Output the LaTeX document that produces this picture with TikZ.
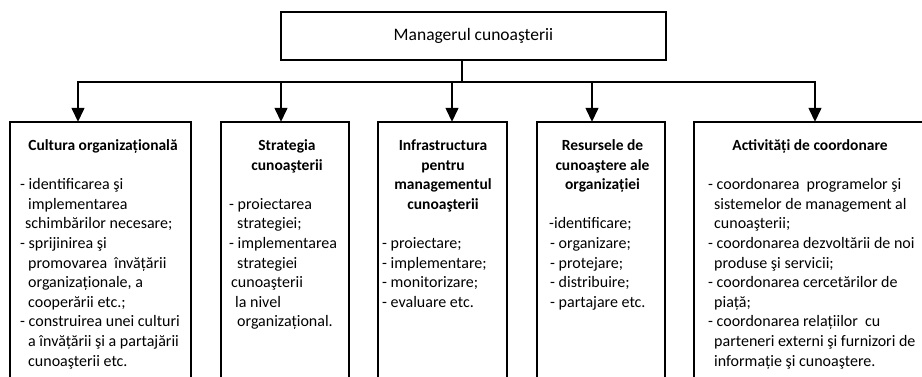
\documentclass[tikz,border=0pt]{standalone}
\usepackage{fontspec}
\setmainfont{Carlito}
\usetikzlibrary{arrows.meta}
\newcommand\boxlines[3]{%
  \foreach \lx/\lt [count=\li from #2] in {#3} {
    \node[body] (#1\li) at (\lx, {150.5+\li*19.6}) {\lt};
  }}
\newcommand\boxhead[3]{%
  \foreach \lt [count=\li from 0] in {#3} {
    \node[hdr] (#1\li) at (#2, {150.5+\li*19.6}) {\lt};
  }}
\begin{document}
\begin{tikzpicture}[x=1pt,y=-1pt,
  frame/.style={line width=1.8pt},
  conn/.style={line width=1.4pt},
  arr/.style={conn,-{Triangle[width=13pt,length=14pt]}},
  body/.style={inner sep=0pt, anchor=base west, font=\fontsize{16}{19.6}\selectfont},
  hdr/.style={inner sep=0pt, anchor=base, font=\bfseries\fontsize{15.5}{19.6}\selectfont},
  slot/.style={inner sep=0pt, rectangle, minimum height=255pt}]
\useasboundingbox[fill=white] (0,0) rectangle (922,377);

% top box
\node[draw, frame, minimum width=385pt, minimum height=48pt, inner sep=0pt,
      font=\fontsize{17.5}{20}\selectfont] (mgr) at (473.5,36) {Managerul cunoaşterii};

% lower boxes (open at the bottom)
\node[slot, minimum width=181pt] (b1) at (100.5,249.5) {};
\node[slot, minimum width=128pt] (b2) at (285,249.5) {};
\node[slot, minimum width=129pt] (b3) at (442.5,249.5) {};
\node[slot, minimum width=128pt] (b4) at (601,249.5) {};
\node[slot, minimum width=231pt] (b5) at (809.5,249.5) {};
\foreach \b in {b1,b2,b3,b4,b5}
  \draw[frame] (\b.south west) -- (\b.north west) -- (\b.north east) -- (\b.south east);

% connectors
\coordinate (drop) at (462,82);
\coordinate (a1) at (78,82);
\coordinate (a2) at (281,82);
\coordinate (a3) at (452,82);
\coordinate (a4) at (592,82);
\coordinate (a5) at (815,82);
\draw[conn] (mgr.south -| drop) -- (drop);
\draw[arr] (drop) -| (a1 |- b1.north);
\draw[arr] (drop) -| (a5 |- b5.north);
\draw[arr] (a2) -- (a2 |- b2.north);
\draw[arr] (a3) -- (a3 |- b3.north);
\draw[arr] (a4) -- (a4 |- b4.north);

% box 1
\boxhead{h1-}{103}{{Cultura organizațională}}
\boxlines{t1-}{2}{20/{- identificarea şi},
  28/{implementarea},
  25/{schimbărilor necesare;},
  20/{- sprijinirea şi},
  28/{promovarea\ \ învățării},
  28/{organizaționale, a},
  28/{cooperării etc.;},
  20/{- construirea unei culturi},
  28/{a învățării şi a partajării},
  28/{cunoaşterii etc.}}

% box 2
\boxhead{h2-}{287}{Strategia,cunoaşterii}
\boxlines{t2-}{3}{229/{- proiectarea},
  237/{strategiei;},
  229/{- implementarea},
  237/{strategiei},
  231/{cunoaşterii},
  235/{la nivel},
  237/{organizațional.}}

% box 3
\boxhead{h3-}{443}{Infrastructura,pentru,managementul,cunoaşterii}
\boxlines{t3-}{5}{382/{- proiectare;},
  382/{- implementare;},
  382/{- monitorizare;},
  382/{- evaluare etc.}}

% box 4
\boxhead{h4-}{602.5}{{Resursele de},{cunoaştere ale},organizației}
\boxlines{t4-}{4}{549/{-identificare;},
  550/{- organizare;},
  550/{- protejare;},
  550/{- distribuire;},
  550/{- partajare etc.}}

% box 5
\boxhead{h5-}{810}{{Activități de coordonare}}
\boxlines{t5-}{2}{708/{- coordonarea\ \ programelor şi},
  714/{sistemelor de management al},
  714/{cunoaşterii;},
  708/{- coordonarea dezvoltării de noi},
  714/{produse şi servicii;},
  708/{- coordonarea cercetărilor de},
  714/{piață;},
  708/{- coordonarea relațiilor\ \ cu},
  714/{parteneri externi şi furnizori de},
  714/{informație şi cunoaştere.}}
\end{tikzpicture}
\end{document}
